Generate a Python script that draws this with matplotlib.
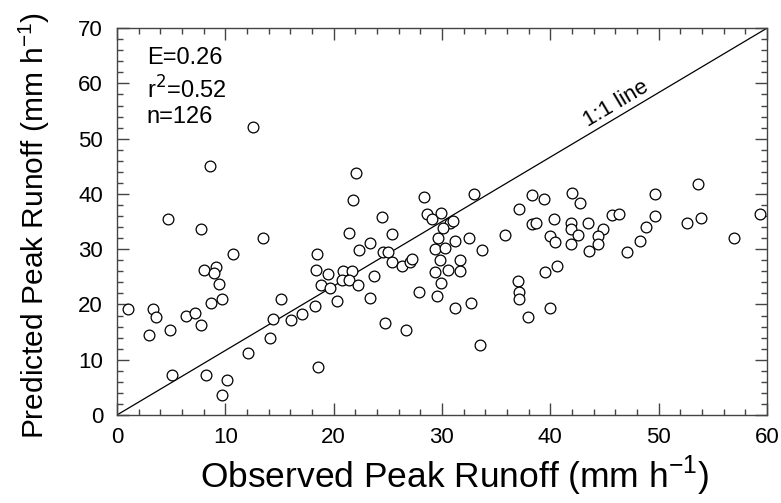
import matplotlib
matplotlib.use("Agg")
import matplotlib.pyplot as plt
import numpy as np

plt.rcParams['font.family'] = ['Liberation Sans', 'DejaVu Sans']

# observed / predicted peak runoff (mm h-1)
observed = [
    1.05, 4.7, 7.8, 13.5, 10.7, 18.5, 8.0, 9.1, 9.0, 9.45,
    18.4, 19.5, 18.8, 8.7, 9.7, 3.3, 3.6, 6.4, 7.2, 7.8,
    2.95, 4.9, 15.1, 14.4, 16.1, 17.1, 18.3, 14.1, 12.1, 18.6,
    5.1, 8.2, 10.2, 9.7, 12.6, 8.6,
    24.5, 28.6, 29.1, 29.9, 30.7, 31.0, 30.1, 37.1, 38.3, 38.7,
    21.4, 25.4, 23.4, 22.3, 24.6, 25.05, 29.6, 31.2, 32.5, 33.7,
    35.8, 29.4, 30.3, 29.8, 31.7, 30.6, 31.7, 29.4, 29.9, 25.4,
    26.3, 27.05, 27.2, 19.7, 20.9, 21.7, 20.8, 21.4, 22.25, 23.7,
    20.3, 23.4, 27.9, 29.5, 31.2, 32.7, 24.7, 26.7, 33.5, 37.0,
    37.1, 37.1, 37.9, 39.5, 40.0, 40.4, 40.0,
    42.7, 40.35, 41.9, 41.9, 43.5, 42.6, 41.9, 44.9, 44.4, 44.4,
    43.6, 45.7, 46.3, 48.8, 49.7, 48.3, 47.1, 52.6, 53.9, 57.0,
    59.4, 40.6,
    22.1, 21.8, 28.3, 33.0, 38.3, 39.4, 42.0, 49.7, 53.6,
]
predicted = [
    19.1, 35.4, 33.7, 32.0, 29.1, 29.2, 26.2, 26.8, 25.7, 23.7,
    26.3, 25.6, 23.6, 20.3, 21.0, 19.1, 17.8, 17.9, 18.4, 16.3,
    14.4, 15.4, 21.0, 17.3, 17.2, 18.3, 19.8, 14.0, 11.3, 8.7,
    7.3, 7.3, 6.3, 3.6, 52.1, 45.0,
    35.9, 36.3, 35.4, 36.6, 34.7, 35.1, 33.9, 37.3, 34.5, 34.7,
    33.0, 32.8, 31.2, 29.8, 29.5, 29.5, 32.0, 31.5, 32.1, 29.9,
    32.5, 30.1, 30.3, 28.0, 28.0, 26.3, 26.0, 25.9, 23.9, 27.6,
    26.9, 27.7, 28.3, 22.9, 26.1, 26.0, 24.4, 24.4, 23.6, 25.1,
    20.7, 21.2, 22.3, 21.5, 19.3, 20.2, 16.6, 15.4, 12.6, 24.3,
    22.3, 20.9, 17.8, 25.8, 32.4, 31.3, 19.4,
    38.4, 35.4, 34.8, 33.7, 34.8, 32.5, 30.9, 33.6, 32.4, 31.0,
    29.7, 36.2, 36.3, 34.1, 36.0, 31.5, 29.5, 34.8, 35.6, 32.1,
    36.3, 26.9,
    43.8, 38.9, 39.5, 40.0, 39.8, 39.1, 40.2, 40.0, 41.8,
]
stats_lines = ["E=0.26", "r$^2$=0.52", "n=126"]

fig = plt.figure(figsize=(7.81, 5.03), dpi=100)
ax = fig.add_axes([0.1498, 0.175, 0.8322, 0.769])

ax.plot([0, 60], [0, 70], color='black', lw=0.9, zorder=1)
ax.scatter(observed, predicted, s=60, facecolors='white', edgecolors='black',
           linewidths=0.9, zorder=2)

ax.set_xlim(0, 60)
ax.set_ylim(0, 70)
ax.set_xticks(np.arange(0, 61, 10))
ax.set_yticks(np.arange(0, 71, 10))
ax.set_xticks(np.arange(0, 61, 2), minor=True)
ax.set_yticks(np.arange(0, 71, 2), minor=True)
ax.tick_params(which='both', direction='in', top=True, right=True,
               color='#444444', width=1)
ax.tick_params(which='major', length=8.5, labelsize=16)
ax.tick_params(axis='x', which='major', pad=9)
ax.tick_params(axis='y', which='major', pad=10)
ax.tick_params(which='minor', length=4.5)
for s in ax.spines.values():
    s.set_linewidth(1)
    s.set_color('#444444')

ax.set_xlabel("Observed Peak Runoff (mm h$^{\\mathregular{-1}}$)", fontsize=25.5)
ax.set_ylabel("Predicted Peak Runoff (mm h$^{\\mathregular{-1}}$)", fontsize=21.5)
ax.xaxis.set_label_coords(0.52, -0.1)
ax.yaxis.set_label_coords(-0.1, 0.49)

for i, t in enumerate(stats_lines):
    ax.text(0.046, 0.952 - i * 0.077, t, transform=ax.transAxes, fontsize=17,
            va='top', ha='left')

ax.text(46.1, 56.3, "1:1 line", rotation=30.8, fontsize=16,
        ha='center', va='center', rotation_mode='anchor')

fig.savefig("out.png", dpi=100)
